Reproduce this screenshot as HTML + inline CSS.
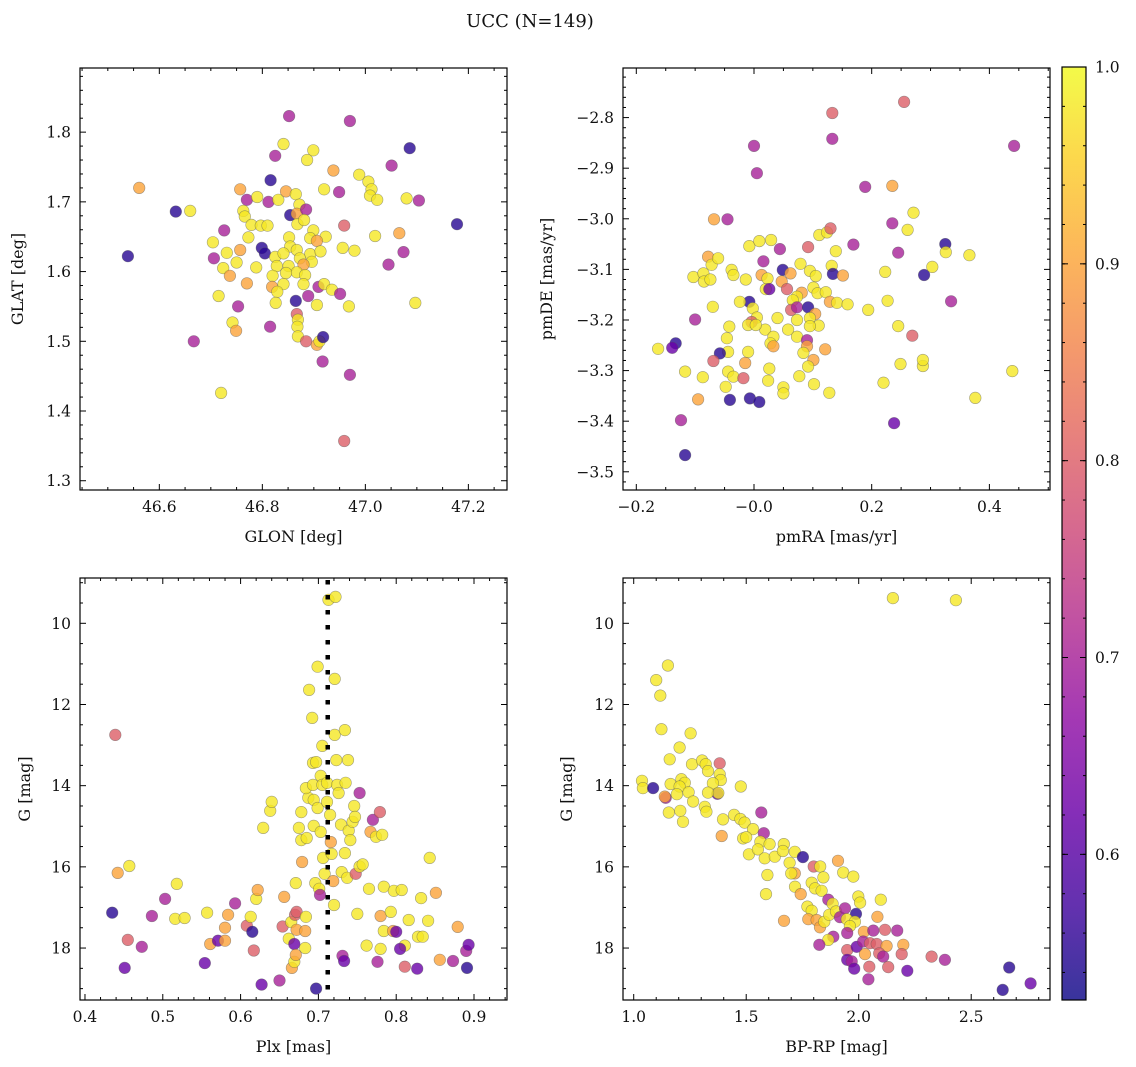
<!DOCTYPE html>
<html><head><meta charset="utf-8">
<style>
html,body{margin:0;padding:0;background:#fff;}
svg{display:block;font-family:"DejaVu Serif","Liberation Serif",serif;}
</style></head>
<body>
<svg id="fig" width="1136" height="1067" viewBox="0 0 1136 1067" xmlns="http://www.w3.org/2000/svg">
<text x="530" y="27" text-anchor="middle" font-size="18" fill="#111">UCC (N=149)</text>
</svg>
<script>
// ---- Panel 1: GLON vs GLAT ----
const glonVals=[46.841,46.825,46.899,46.887,46.816,46.938,46.988,47.006,47.012,47.009,47.023,47.051,47.086,47.080,47.104,46.757,46.770,46.790,46.812,46.831,46.846,46.865,46.872,46.920,46.949,46.854,46.867,46.885,46.763,46.766,46.779,46.797,46.810,46.868,46.881,46.959,46.899,46.726,46.704,46.773,46.852,46.893,46.923,46.906,47.019,47.066,46.757,46.731,46.799,46.805,46.854,46.867,46.893,46.913,46.956,46.979,47.074,46.706,46.750,46.724,46.788,46.825,46.841,46.828,46.851,46.873,46.896,46.880,46.867,46.883,46.846,47.045,46.737,46.770,46.820,46.715,46.819,46.841,46.880,46.909,46.920,46.935,46.951,46.829,46.826,46.865,46.889,46.906,46.968,46.753,47.097,46.867,46.869,46.868,46.742,46.749,46.815,46.869,46.885,46.906,46.911,46.918,46.917,46.561,46.539,46.632,46.660,46.667,46.720,46.852,46.970,46.959,46.970,47.178];
const glatVals=[1.783,1.766,1.774,1.760,1.731,1.745,1.739,1.729,1.718,1.709,1.703,1.752,1.777,1.705,1.702,1.718,1.703,1.707,1.700,1.703,1.715,1.711,1.696,1.718,1.714,1.681,1.683,1.689,1.687,1.679,1.667,1.666,1.666,1.668,1.674,1.666,1.659,1.659,1.642,1.649,1.649,1.648,1.650,1.644,1.651,1.655,1.631,1.627,1.634,1.626,1.636,1.631,1.625,1.629,1.634,1.630,1.628,1.619,1.613,1.605,1.606,1.621,1.626,1.608,1.608,1.619,1.614,1.610,1.599,1.595,1.598,1.610,1.594,1.583,1.594,1.565,1.578,1.582,1.582,1.578,1.582,1.574,1.568,1.571,1.555,1.558,1.565,1.552,1.550,1.550,1.555,1.539,1.531,1.521,1.527,1.515,1.521,1.507,1.500,1.495,1.500,1.506,1.471,1.720,1.622,1.686,1.687,1.500,1.426,1.823,1.816,1.357,1.452,1.668];
const prob1=[.98,.7,.98,.98,.55,.9,.98,.98,.98,.98,.98,.7,.55,.98,.7,.9,.7,.98,.7,.98,.9,.98,.98,.98,.7,.55,.9,.7,.98,.98,.98,.98,.98,.98,.98,.8,.98,.7,.98,.98,.98,.98,.98,.9,.98,.9,.9,.98,.55,.55,.98,.98,.98,.98,.98,.98,.7,.7,.98,.98,.98,.98,.98,.98,.98,.98,.98,.9,.98,.98,.98,.7,.9,.9,.98,.98,.9,.98,.98,.7,.98,.98,.7,.98,.98,.55,.7,.98,.98,.7,.98,.8,.98,.98,.98,.9,.7,.98,.8,.9,.98,.55,.7,.9,.55,.55,.98,.7,.98,.7,.7,.8,.7,.55];

// ---- Panel 2: pmRA vs pmDE ----
const pmraVals=[-0.068,-0.045,-0.008,0.009,0.029,0.044,0.092,0.111,0.124,0.130,0.139,0.169,0.235,0.261,0.271,0.245,-0.078,-0.072,-0.061,-0.103,-0.086,-0.085,-0.074,-0.038,-0.035,-0.014,0.016,0.013,0.023,0.020,0.026,0.049,0.062,0.047,0.056,0.079,0.095,0.105,0.132,0.134,0.151,0.081,0.101,0.108,0.122,0.129,0.141,0.159,0.073,0.066,0.063,0.073,0.092,0.104,0.095,0.110,0.095,0.073,0.058,0.073,0.040,0.019,0.033,0.028,0.033,-0.008,-0.024,-0.002,0.005,-0.004,-0.010,0.003,-0.070,-0.100,-0.042,-0.046,0.090,0.090,0.084,0.101,0.092,0.121,-0.010,-0.044,-0.058,-0.069,-0.015,-0.117,-0.087,-0.044,-0.035,-0.018,-0.048,0.026,0.024,0.050,0.050,0.077,0.102,0.128,-0.095,-0.041,-0.007,0.009,0.223,0.227,0.194,0.245,0.269,0.249,0.220,-0.163,-0.133,-0.139,-0.124,-0.117,0.000,0.005,0.133,0.133,0.189,0.235,0.238,0.255,0.287,0.287,0.289,0.303,0.325,0.326,0.335,0.366,0.376,0.439,0.442];
const pmdeVals=[-3.001,-3.001,-3.054,-3.044,-3.042,-3.060,-3.056,-3.032,-3.027,-3.019,-3.064,-3.051,-3.009,-3.022,-2.988,-3.067,-3.075,-3.091,-3.078,-3.115,-3.108,-3.124,-3.120,-3.101,-3.111,-3.120,-3.084,-3.111,-3.118,-3.139,-3.139,-3.101,-3.108,-3.124,-3.139,-3.089,-3.103,-3.113,-3.093,-3.109,-3.112,-3.146,-3.136,-3.147,-3.145,-3.164,-3.166,-3.169,-3.154,-3.161,-3.180,-3.175,-3.175,-3.188,-3.196,-3.211,-3.212,-3.200,-3.219,-3.233,-3.196,-3.219,-3.233,-3.246,-3.252,-3.164,-3.164,-3.177,-3.195,-3.204,-3.210,-3.210,-3.174,-3.199,-3.213,-3.236,-3.240,-3.252,-3.265,-3.279,-3.292,-3.258,-3.263,-3.263,-3.266,-3.281,-3.285,-3.302,-3.313,-3.302,-3.312,-3.315,-3.332,-3.296,-3.320,-3.333,-3.345,-3.311,-3.327,-3.344,-3.357,-3.358,-3.355,-3.362,-3.105,-3.162,-3.180,-3.212,-3.231,-3.287,-3.324,-3.257,-3.246,-3.255,-3.398,-3.467,-2.856,-2.910,-2.842,-2.791,-2.937,-2.935,-3.404,-2.769,-3.291,-3.279,-3.111,-3.095,-3.050,-3.066,-3.163,-3.072,-3.354,-3.301,-2.856];
const prob2=[.9,.7,.98,.98,.98,.7,.8,.98,.98,.8,.98,.7,.7,.98,.98,.7,.9,.98,.98,.98,.98,.98,.98,.98,.98,.98,.7,.9,.98,.98,.62,.55,.9,.9,.8,.98,.98,.98,.98,.55,.9,.9,.98,.98,.98,.9,.98,.98,.98,.98,.8,.7,.55,.9,.98,.98,.98,.98,.98,.98,.98,.98,.98,.98,.9,.55,.98,.98,.98,.8,.98,.98,.98,.7,.98,.98,.7,.9,.98,.9,.98,.9,.98,.98,.55,.8,.9,.98,.98,.98,.98,.8,.98,.98,.98,.98,.98,.98,.98,.98,.9,.55,.55,.55,.98,.98,.98,.98,.8,.98,.98,.98,.55,.62,.7,.55,.7,.7,.7,.8,.7,.9,.62,.8,.98,.98,.55,.98,.55,.98,.7,.98,.98,.98,.7];

// ---- Panel 3: Plx vs G ----
const plxVals=[0.439,0.435,0.442,0.457,0.455,0.451,0.473,0.486,0.503,0.518,0.516,0.528,0.554,0.557,0.561,0.571,0.580,0.584,0.580,0.627,0.593,0.608,0.617,0.615,0.613,0.620,0.622,0.629,0.638,0.640,0.650,0.654,0.656,0.662,0.665,0.666,0.669,0.669,0.670,0.672,0.672,0.671,0.671,0.675,0.678,0.679,0.678,0.683,0.683,0.684,0.685,0.687,0.688,0.684,0.693,0.692,0.693,0.694,0.696,0.694,0.697,0.699,0.699,0.701,0.702,0.697,0.703,0.705,0.703,0.705,0.706,0.708,0.711,0.711,0.713,0.715,0.716,0.717,0.719,0.720,0.721,0.722,0.723,0.724,0.726,0.729,0.721,0.730,0.731,0.733,0.734,0.734,0.735,0.737,0.738,0.739,0.741,0.744,0.746,0.747,0.748,0.750,0.753,0.753,0.757,0.762,0.765,0.767,0.770,0.774,0.776,0.779,0.780,0.782,0.780,0.784,0.784,0.793,0.796,0.797,0.807,0.811,0.800,0.805,0.811,0.816,0.827,0.828,0.832,0.834,0.841,0.843,0.851,0.856,0.873,0.879,0.890,0.891,0.893];
const gPlxVals=[12.75,17.13,16.15,15.98,17.80,18.49,17.97,17.21,16.79,16.42,17.28,17.26,18.37,17.13,17.90,17.82,17.50,17.18,17.82,18.90,16.90,17.45,18.06,17.60,17.23,16.79,16.57,15.04,14.62,14.40,18.80,17.47,16.74,17.77,17.36,18.49,18.34,17.90,17.18,17.11,17.55,18.17,16.40,15.04,15.34,15.88,14.65,17.58,18.00,17.23,15.29,14.30,11.64,14.06,13.44,12.33,13.98,14.35,16.40,14.99,13.42,14.55,11.07,16.54,16.69,19.00,13.76,13.02,15.14,13.98,15.78,16.17,13.93,14.40,9.42,14.72,15.39,15.68,16.35,16.94,12.75,9.35,13.37,13.98,14.18,14.96,11.37,16.13,18.19,18.32,12.63,15.66,13.93,16.27,13.37,15.11,15.34,14.89,14.50,14.77,16.17,17.16,15.99,14.18,15.94,17.94,16.54,15.14,14.84,15.26,18.34,14.65,18.02,15.21,17.21,16.49,17.58,17.11,17.58,16.59,16.57,17.94,17.60,18.02,18.46,17.31,18.51,17.72,16.77,17.72,17.33,15.78,16.64,18.29,18.32,17.48,18.07,18.49,17.92];
const prob3=[.8,.55,.9,.98,.8,.62,.7,.7,.7,.98,.98,.98,.62,.98,.9,.62,.9,.9,.9,.62,.7,.8,.8,.55,.98,.98,.9,.98,.98,.98,.7,.8,.9,.98,.98,.9,.98,.62,.8,.8,.9,.9,.98,.98,.98,.9,.98,.9,.98,.98,.98,.98,.98,.98,.98,.98,.98,.98,.98,.98,.98,.98,.98,.98,.7,.55,.98,.98,.98,.98,.98,.98,.98,.98,.98,.98,.9,.98,.9,.98,.98,.98,.98,.98,.98,.98,.98,.98,.7,.62,.98,.98,.98,.98,.98,.98,.98,.98,.98,.98,.8,.98,.98,.7,.98,.98,.98,.9,.7,.98,.7,.8,.98,.98,.9,.98,.98,.98,.9,.98,.98,.98,.62,.62,.8,.98,.62,.98,.98,.98,.98,.98,.9,.9,.7,.9,.7,.55,.62];
const plxCenter=[0.712];

// ---- Panel 4: BP-RP vs G ----
const bprpVals=[2.152,2.432,1.152,1.100,1.118,1.123,1.253,1.204,1.160,1.259,1.304,1.320,1.330,1.382,1.382,1.387,1.352,1.037,1.041,1.086,1.142,1.138,1.164,1.212,1.227,1.204,1.192,1.244,1.264,1.372,1.376,1.330,1.476,1.316,1.323,1.156,1.207,1.219,1.397,1.391,1.446,1.474,1.493,1.567,1.530,1.578,1.486,1.500,1.563,1.604,1.512,1.552,1.582,1.627,1.667,1.663,1.693,1.716,1.752,1.800,1.829,1.908,1.594,1.716,1.700,1.843,1.931,1.976,1.588,1.717,1.742,1.791,1.806,1.835,1.865,1.884,1.998,2.006,2.098,1.772,1.791,1.776,1.813,1.828,1.847,1.869,1.899,1.917,1.939,1.988,1.947,1.983,1.961,2.083,1.949,2.023,2.065,2.117,2.171,1.668,1.887,1.865,1.825,1.949,1.991,2.020,2.050,2.080,2.124,2.198,2.028,2.091,2.109,2.191,1.949,1.969,1.980,2.047,2.131,2.216,2.043,2.324,2.383,2.669,2.640,2.764];
const gCmdVals=[9.38,9.43,11.04,11.40,11.78,12.61,12.71,13.06,13.35,13.47,13.38,13.47,13.64,13.45,13.72,13.86,13.94,13.88,14.06,14.06,14.30,14.27,13.96,13.84,13.93,14.02,14.21,14.16,14.39,14.20,14.18,14.17,14.02,14.52,14.64,14.66,14.62,14.89,14.83,15.24,14.72,14.82,14.91,14.66,15.07,15.17,15.30,15.27,15.38,15.44,15.69,15.57,15.79,15.75,15.44,15.61,15.90,15.63,15.76,15.99,15.99,15.85,16.20,16.16,16.16,16.26,16.14,16.24,16.67,16.49,16.67,16.39,16.53,16.59,16.81,16.91,16.73,16.88,16.81,16.98,17.08,17.29,17.31,17.49,17.35,17.18,17.10,17.24,17.02,17.16,17.29,17.35,17.46,17.23,17.63,17.60,17.57,17.55,17.57,17.33,17.72,17.80,17.92,18.05,17.97,17.84,17.88,17.90,17.95,17.92,18.15,18.13,18.21,18.15,18.29,18.33,18.51,18.46,18.47,18.56,18.77,18.21,18.29,18.48,19.03,18.87];
const prob4=[.98,.98,.98,.98,.98,.98,.98,.98,.98,.98,.98,.98,.98,.8,.98,.98,.98,.98,.98,.55,.7,.9,.98,.98,.98,.98,.98,.98,.98,.62,.98,.98,.98,.98,.98,.98,.98,.98,.98,.9,.98,.98,.98,.7,.98,.7,.98,.98,.98,.98,.98,.98,.98,.98,.98,.98,.98,.98,.55,.8,.98,.9,.98,.9,.98,.98,.98,.98,.98,.98,.9,.98,.98,.98,.7,.98,.98,.98,.98,.98,.98,.9,.9,.9,.98,.98,.98,.7,.7,.55,.98,.98,.98,.9,.7,.9,.7,.8,.7,.9,.7,.98,.7,.8,.62,.7,.8,.8,.9,.9,.9,.8,.7,.8,.62,.7,.62,.8,.8,.62,.7,.8,.7,.55,.55,.62];

// ---- Colorbar ----
const cbarTicks=[0.6,0.7,0.8,0.9,1.0];
const cbarMin=0.526, cbarMax=1.0;

const NS="http://www.w3.org/2000/svg";
const svg=document.getElementById('fig');
function mk(tag,attrs,parent){const e=document.createElementNS(NS,tag);for(const k in attrs)e.setAttribute(k,attrs[k]);(parent||svg).appendChild(e);return e;}

const plasma=[[13,8,135],[65,4,157],[106,0,168],[143,13,164],[177,42,144],[204,71,120],[225,100,98],[242,132,75],[252,166,54],[252,206,37],[240,249,33]];
function cmap(v){let t=(v-cbarMin)/(cbarMax-cbarMin);t=Math.max(0,Math.min(1,t));const f=t*10,i=Math.min(9,Math.floor(f)),r=f-i;const a=plasma[i],b=plasma[i+1];return 'rgb('+[0,1,2].map(k=>Math.round(a[k]+(b[k]-a[k])*r)).join(',')+')';}
function fmt(v,d){const s=v.toFixed(d);return v<0?'\u2212'+s.slice(1):s;}

function panel(cfg){
  const {name,L,T,R,B,xmin,xmax,ymin,ymax,invert}=cfg;
  const g=mk('g',{});
  
  
  const sx=v=>L+(v-xmin)/(xmax-xmin)*(R-L);
  const sy=v=>invert? T+(v-ymin)/(ymax-ymin)*(B-T) : B-(v-ymin)/(ymax-ymin)*(B-T);
  const clipId='clip-'+name;
  const cp=mk('clipPath',{id:clipId},g);mk('rect',{x:L,y:T,width:R-L,height:B-T},cp);
  const pts=mk('g',{'clip-path':'url(#'+clipId+')'},g);
  
  
  const n=Math.min(cfg.xs.length,cfg.ys.length,cfg.ps.length);
  for(let i=0;i<n;i++){
    const c=mk('circle',{cx:sx(cfg.xs[i]).toFixed(1),cy:sy(cfg.ys[i]).toFixed(1),r:5.8,fill:cmap(cfg.ps[i]),'fill-opacity':0.8,stroke:'#555','stroke-opacity':0.55,'stroke-width':0.6},pts);
    
    
  }
  if(cfg.vline){cfg.vline.forEach(v=>{
    const l=mk('line',{x1:sx(v),x2:sx(v),y1:T+2,y2:B,stroke:'#000','stroke-width':4.5,'stroke-dasharray':'4.5 10.5'},g);
    
    
  });}
  const fr=mk('rect',{x:L,y:T,width:R-L,height:B-T,fill:'none',stroke:'#000','stroke-width':1.2},g);
  
  
  // x ticks
  const xt=mk('g',{},g);
  
  
  for(let v=Math.ceil(xmin/cfg.xminor-1e-9)*cfg.xminor; v<=xmax+1e-9; v+=cfg.xminor){
    const isMaj=Math.abs(v/cfg.xmajor-Math.round(v/cfg.xmajor))<1e-6;const len=isMaj?6:3;const x=sx(v);
    mk('line',{x1:x,x2:x,y1:B,y2:B-len,stroke:'#000','stroke-width':1},xt);
    mk('line',{x1:x,x2:x,y1:T,y2:T+len,stroke:'#000','stroke-width':1},xt);
    if(isMaj){const t=mk('text',{x:x,y:B+22,'text-anchor':'middle','font-size':15.5,fill:'#111'},xt);t.textContent=fmt(v,cfg.xdec);
      
      }
  }
  const yt=mk('g',{},g);
  
  
  for(let v=Math.ceil(ymin/cfg.yminor-1e-9)*cfg.yminor; v<=ymax+1e-9; v+=cfg.yminor){
    const isMaj=Math.abs(v/cfg.ymajor-Math.round(v/cfg.ymajor))<1e-6;const len=isMaj?6:3;const y=sy(v);
    mk('line',{x1:L,x2:L+len,y1:y,y2:y,stroke:'#000','stroke-width':1},yt);
    mk('line',{x1:R,x2:R-len,y1:y,y2:y,stroke:'#000','stroke-width':1},yt);
    if(isMaj){const t=mk('text',{x:L-9,y:y+5.5,'text-anchor':'end','font-size':15.5,fill:'#111'},yt);t.textContent=fmt(v,cfg.ydec);
      
      }
  }
  const xl=mk('text',{x:(L+R)/2,y:B+52,'text-anchor':'middle','font-size':16,fill:'#111'},g);xl.textContent=cfg.xlabel;
  
  
  const yx=cfg.ylabelX, yy=(T+B)/2;
  const yl=mk('text',{x:yx,y:yy,'text-anchor':'middle','font-size':16,fill:'#111',transform:'rotate(-90 '+yx+' '+yy+')'},g);yl.textContent=cfg.ylabel;
  
  
}

panel({name:'glon-glat-panel',L:80,T:68,R:507,B:490,xmin:46.446,xmax:47.275,ymin:1.2867,ymax:1.892,xmajor:0.2,xminor:0.05,ymajor:0.1,yminor:0.02,xdec:1,ydec:1,xs:glonVals,ys:glatVals,ps:prob1,xlabel:'GLON [deg]',ylabel:'GLAT [deg]',ylabelX:23});
panel({name:'pm-panel',L:623,T:68,R:1050,B:490,xmin:-0.2226,xmax:0.503,ymin:-3.536,ymax:-2.702,xmajor:0.2,xminor:0.05,ymajor:0.1,yminor:0.02,xdec:1,ydec:1,xs:pmraVals,ys:pmdeVals,ps:prob2,xlabel:'pmRA [mas/yr]',ylabel:'pmDE [mas/yr]',ylabelX:552});
panel({name:'plx-g-panel',L:80,T:578,R:507,B:1000,xmin:0.3936,xmax:0.9424,ymin:8.884,ymax:19.28,invert:true,xmajor:0.1,xminor:0.02,ymajor:2,yminor:0.5,xdec:1,ydec:0,xs:plxVals,ys:gPlxVals,ps:prob3,vline:plxCenter,xlabel:'Plx [mas]',ylabel:'G [mag]',ylabelX:30});
panel({name:'cmd-panel',L:623,T:578,R:1050,B:1000,xmin:0.9524,xmax:2.8502,ymin:8.884,ymax:19.28,invert:true,xmajor:0.5,xminor:0.1,ymajor:2,yminor:0.5,xdec:1,ydec:0,xs:bprpVals,ys:gCmdVals,ps:prob4,xlabel:'BP-RP [mag]',ylabel:'G [mag]',ylabelX:572});

// colorbar
(function(){
  const L=1062,R=1086,T=67,B=1000;
  const g=mk('g',{});
  
  
  const defs=mk('defs',{},g);
  const lg=mk('linearGradient',{id:'cbg',x1:0,y1:1,x2:0,y2:0},defs);
  for(let i=0;i<=20;i++){const v=cbarMin+(cbarMax-cbarMin)*i/20;mk('stop',{offset:(i/20),'stop-color':cmap(v),'stop-opacity':0.82},lg);}
  mk('rect',{x:L,y:T,width:R-L,height:B-T,fill:'url(#cbg)',stroke:'#000','stroke-width':1.2},g);
  const sy=v=>B-(v-cbarMin)/(cbarMax-cbarMin)*(B-T);
  for(let v=0.54;v<=1.0001;v+=0.02){const y=sy(v);mk('line',{x1:R,x2:R-3,y1:y,y2:y,stroke:'#000','stroke-width':1},g);mk('line',{x1:L,x2:L+3,y1:y,y2:y,stroke:'#000','stroke-width':1},g);}
  cbarTicks.forEach(v=>{const y=sy(v);mk('line',{x1:R,x2:R-6,y1:y,y2:y,stroke:'#000','stroke-width':1},g);mk('line',{x1:L,x2:L+6,y1:y,y2:y,stroke:'#000','stroke-width':1},g);
    const t=mk('text',{x:R+9,y:y+5.5,'font-size':15.5,fill:'#111'},g);t.textContent=v.toFixed(1);
    
    });
})();
</script>
</body></html>
